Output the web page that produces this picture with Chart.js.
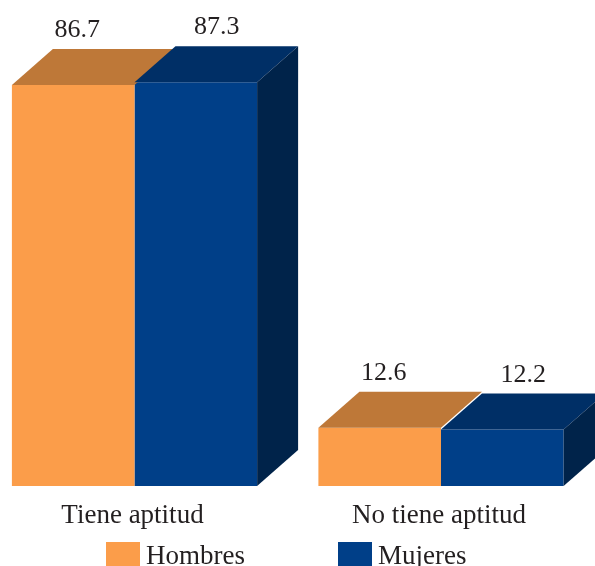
<!DOCTYPE html>
<html>
<head>
<meta charset="utf-8">
<script src="https://cdn.jsdelivr.net/npm/chart.js@4.4.1/dist/chart.umd.min.js"></script>
<style>
  html, body { margin: 0; padding: 0; background: #fff; }
  #wrap { width: 595px; height: 566px; }
</style>
</head>
<body>
<div id="wrap"><canvas id="chart" width="595" height="566"></canvas></div>
<script>
// data
const categories = ['Tiene aptitud', 'No tiene aptitud'];
const hombres = [86.7, 12.6];
const mujeres = [87.3, 12.2];
const seriesNames = ['Hombres', 'Mujeres'];

// look
const FONT = '"Liberation Serif", "Times New Roman", serif';
const front = ['#FB9D4A', '#003F88'];
const topFace = ['#BE7838', '#002F66'];
const sideFace = ['#9A5F2A', '#00234A'];
const depthX = 41, depthY = 36;
const labelShift = [4, 21];          // value labels sit over the top face

// draws the top/side faces, value labels, category labels and legend
const bars3d = {
  id: 'bars3d',
  afterDatasetsDraw(chart) {
    const ctx = chart.ctx;
    const n = chart.data.datasets.length;
    ctx.save();
    chart.data.datasets.forEach((ds, di) => {
      const meta = chart.getDatasetMeta(di);
      meta.data.forEach(bar => {
        const p = bar.getProps(['x', 'y', 'base', 'width'], true);
        const l = p.x - p.width / 2, r = p.x + p.width / 2;
        ctx.fillStyle = topFace[di];
        ctx.beginPath();
        ctx.moveTo(l, p.y);
        ctx.lineTo(l + depthX, p.y - depthY);
        ctx.lineTo(r + depthX, p.y - depthY);
        ctx.lineTo(r, p.y);
        ctx.closePath();
        ctx.fill();
        // side face only shows on the last series
        if (di === n - 1) {
          ctx.fillStyle = sideFace[di];
          ctx.beginPath();
          ctx.moveTo(r, p.y);
          ctx.lineTo(r + depthX, p.y - depthY);
          ctx.lineTo(r + depthX, p.base - depthY);
          ctx.lineTo(r, p.base);
          ctx.closePath();
          ctx.fill();
        }
      });
    });

    // value labels
    ctx.fillStyle = '#231f20';
    ctx.font = '26px ' + FONT;
    ctx.textAlign = 'center';
    ctx.textBaseline = 'alphabetic';
    chart.data.datasets.forEach((ds, di) => {
      chart.getDatasetMeta(di).data.forEach((bar, i) => {
        ctx.fillText(ds.data[i].toFixed(1), bar.x + labelShift[di], bar.y - 48);
      });
    });

    // category labels
    const xs = chart.scales.x;
    const base = chart.scales.y.getPixelForValue(0);
    ctx.font = '27px ' + FONT;
    chart.data.labels.forEach((lab, i) => {
      ctx.fillText(lab, xs.getPixelForValue(i) - 2, base + 37);
    });

    // legend
    const legendX = [106, 338];
    ctx.textAlign = 'left';
    chart.data.datasets.forEach((ds, di) => {
      ctx.fillStyle = front[di];
      ctx.fillRect(legendX[di], 542, 34, 30);
      ctx.fillStyle = '#231f20';
      ctx.fillText(ds.label, legendX[di] + 40, base + 78);
    });
    ctx.restore();
  }
};

new Chart(document.getElementById('chart'), {
  type: 'bar',
  data: {
    labels: categories,
    datasets: [
      { label: seriesNames[0], data: hombres, backgroundColor: front[0], clip: false },
      { label: seriesNames[1], data: mujeres, backgroundColor: front[1], clip: false }
    ]
  },
  options: {
    responsive: false,
    animation: false,
    devicePixelRatio: 1,
    layout: { padding: { left: 134.5, right: 154, top: 23.5, bottom: 80 } },
    datasets: { bar: { categoryPercentage: 0.8, barPercentage: 1.0 } },
    scales: {
      x: { display: false, offset: false },
      y: { display: false, min: 0, max: 100 }
    },
    plugins: {
      legend: { display: false },
      tooltip: { enabled: false }
    }
  },
  plugins: [bars3d]
});
</script>
</body>
</html>
